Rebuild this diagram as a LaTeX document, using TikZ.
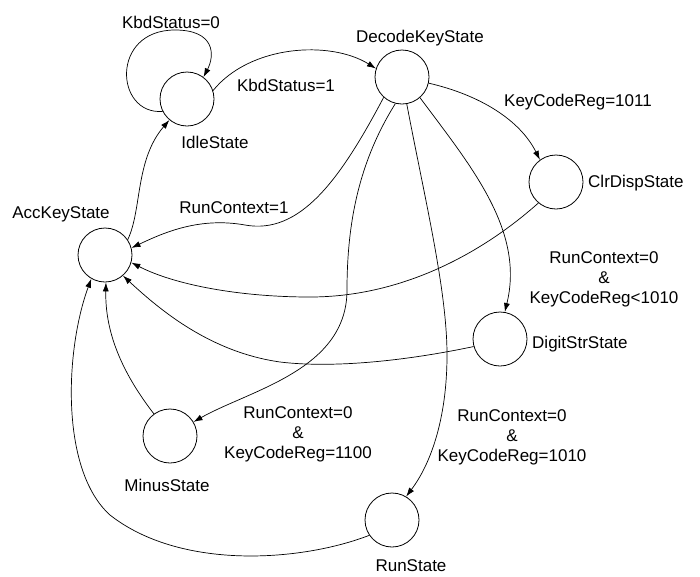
\documentclass[tikz,border=0pt]{standalone}
\usepackage{fontspec}
\setmainfont{Liberation Sans}
\usetikzlibrary{arrows.meta,positioning}

\begin{document}
\begin{tikzpicture}[x=1pt,y=-1pt,
  state/.style={circle,draw,line width=0.8pt,minimum size=54pt,inner sep=0pt},
  lnk/.style={-{Latex[length=9pt,width=6pt]},line width=0.7pt},
  note/.style={font=\fontsize{17}{20}\selectfont,align=center,inner sep=0pt}]
\useasboundingbox (0,0) rectangle (700,576);
% states
\node[state] (idle)   at (187,99)  {};
\node[state] (decode) at (402,77)  {};
\node[state] (clr)    at (556,182) {};
\node[state] (acc)    at (105,255) {};
\node[state] (digit)  at (500,339) {};
\node[state] (minus)  at (170,436) {};
\node[state] (run)    at (392,520) {};
% state names
\node[note] (nidle)   at (215,142) {IdleState};
\node[note] (ndecode) at (420,38)  {DecodeKeyState};
\node[note,anchor=west] (nclr) at (588,183) {ClrDispState};
\node[note] (nacc)    at (61,214)  {AccKeyState};
\node[note,anchor=west] (ndigit) at (532,344) {DigitStrState};
\node[note] (nminus)  at (167,485) {MinusState};
\node[note] (nrun)    at (411,566) {RunState};
% transitions
\draw[lnk] (idle.207) .. controls (115,115) and (110,30) .. (175,30) .. controls (215,30) and (215,55) .. (idle.53);
\draw[lnk] (idle.18) .. controls (250,45) and (330,40) .. (decode.162);
\draw[lnk] (acc.34) .. controls (142,210) and (135,160) .. (idle.230);
\draw[lnk] (decode.-13) .. controls (480,95) and (520,120) .. (clr.126);
\draw[lnk] (decode.228) .. controls (340,180) and (300,235) .. (245,225) .. controls (200,217) and (165,232) .. (acc.15);
\draw[lnk] (clr.230) .. controls (480,255) and (400,297) .. (310,297) .. controls (240,297) and (175,285) .. (acc.-16);
\draw[lnk] (decode.-49) .. controls (470,165) and (525,230) .. (digit.80);
\draw[lnk] (digit.196) .. controls (400,362) and (330,368) .. (280,362) .. controls (210,352) and (160,310) .. (acc.-49);
\draw[lnk] (decode.256) .. controls (360,160) and (347,220) .. (347,290) .. controls (347,370) and (250,390) .. (minus.31);
\draw[lnk] (decode.280) .. controls (425,200) and (447,290) .. (447,355) .. controls (447,420) and (430,465) .. (run.59);
\draw[lnk] (minus.126) .. controls (120,370) and (105,330) .. (acc.272);
\draw[lnk] (run.214) .. controls (300,562) and (180,570) .. (110,515) .. controls (60,470) and (65,350) .. (acc.240);
% conditions
\node[note] (c1) at (171,22)  {KbdStatus=0};
\node[note] (c2) at (286,85)  {KbdStatus=1};
\node[note] (c3) at (578,102) {KeyCodeReg=1011};
\node[note] (c4) at (234,208) {RunContext=1};
\node[note] (c5) at (604,279) {RunContext=0\\\&\\KeyCodeReg<1010};
\node[note] (c6) at (298,434) {RunContext=0\\\&\\KeyCodeReg=1100};
\node[note] (c7) at (512,437) {RunContext=0\\\&\\KeyCodeReg=1010};
\end{tikzpicture}
\end{document}
